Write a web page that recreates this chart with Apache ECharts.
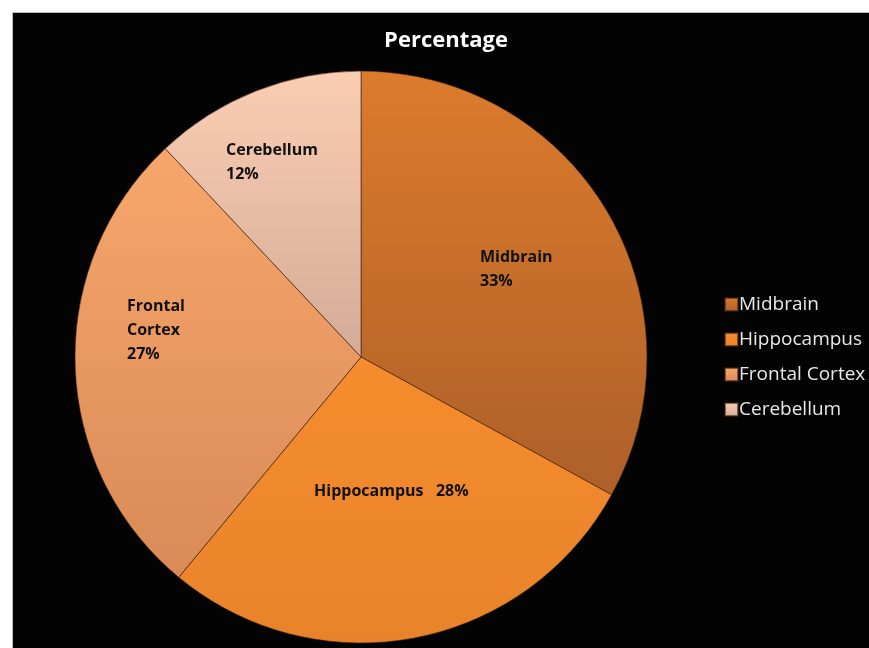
<!DOCTYPE html>
<html>
<head>
<meta charset="utf-8">
<title>Percentage</title>
<script src="https://cdn.jsdelivr.net/npm/echarts@6/dist/echarts.min.js"></script>
<style>
	html, body {margin:0; padding:0; background:#fff;}
	#main {width:869px; height:648px;}
</style>
</head>
<body>
<div id="main"></div>
<script>
var regions = ['Midbrain', 'Hippocampus', 'Frontal Cortex', 'Cerebellum'];
var percents = [33, 28, 27, 12];
// label text as shown in the slices
var labelText = ['Midbrain\n{p}%', 'Hippocampus   {p}%', 'Frontal\nCortex\n{p}%', 'Cerebellum\n{p}%'];
// top / bottom colour of each slice
var topColors = ['#dc7b2c', '#f58d2d', '#f7a66b', '#fbceb3'];
var bottomColors = ['#ad6029', '#e9832b', '#d98a56', '#d4ab98'];
// top-left corner of each slice label
var labelPos = [[480, 245], [314, 479], [127, 294], [226, 138]];

var myChart = echarts.init(document.getElementById('main'));

function sliceColor(i){
	return new echarts.graphic.LinearGradient(0, 0, 0, 1, [
		{offset: 0, color: topColors[i]},
		{offset: 1, color: bottomColors[i]}
	]);
}

var pieData = [];
for (var i = 0; i < regions.length; i++) {
	pieData.push({
		value: percents[i],
		name: regions[i],
		itemStyle: {color: sliceColor(i)},
		label: {formatter: labelText[i].replace('{p}', percents[i])}
	});
}

var option = {
	backgroundColor: '#fff',
	animation: false,
	graphic: [{
		type: 'rect',
		left: 12, top: 12,
		shape: {width: 857, height: 636},
		style: {fill: '#030303', stroke: '#bbb', lineWidth: 1},
		z: -10
	}],
	title: {
		text: 'Percentage',
		left: 441,
		textAlign: 'center',
		top: 25,
		textStyle: {color: '#fff', fontFamily: 'Open Sans', fontWeight: 'bold', fontSize: 22}
	},
	legend: {
		orient: 'vertical',
		left: 719,
		top: 290,
		itemWidth: 13,
		itemHeight: 13,
		itemGap: 16,
		icon: 'rect',
		data: regions,
		textStyle: {color: '#e8e8e8', fontFamily: 'Open Sans', fontSize: 19, padding: [0, 0, 0, -4]}
	},
	series: [{
		type: 'pie',
		center: [361, 357],
		radius: 286,
		startAngle: 90,
		clockwise: true,
		data: pieData,
		itemStyle: {borderColor: 'rgba(60,30,10,0.6)', borderWidth: 1},
		label: {
			show: true,
			position: 'inside',
			color: '#111',
			fontFamily: 'Open Sans',
			fontWeight: 'bold',
			fontSize: 16,
			lineHeight: 24
		},
		labelLayout: function (params) {
			var p = labelPos[params.dataIndex];
			return {x: p[0], y: p[1], align: 'left', verticalAlign: 'top'};
		},
		emphasis: {disabled: true}
	}]
};
myChart.setOption(option);
</script>
</body>
</html>
